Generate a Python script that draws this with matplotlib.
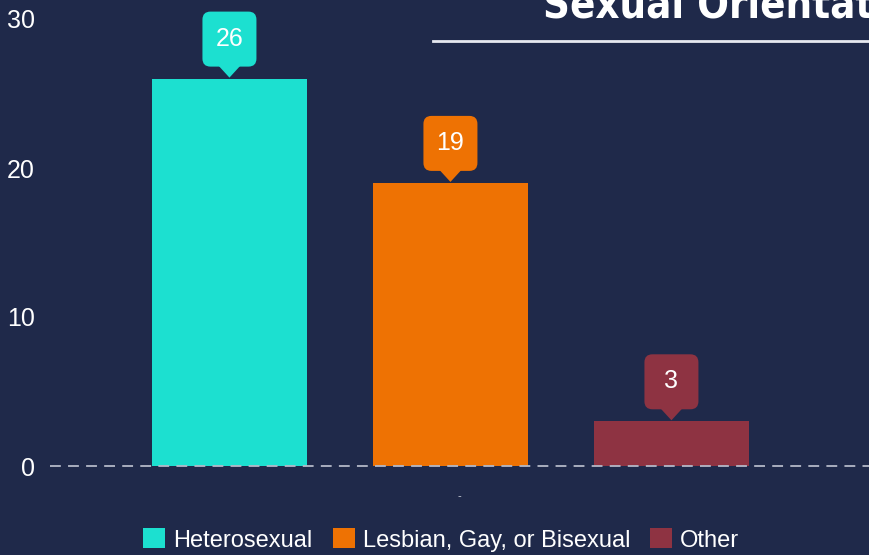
import matplotlib.pyplot as plt
import matplotlib.transforms as mtransforms
from matplotlib import font_manager
from matplotlib.patches import FancyBboxPatch, Polygon, Patch
from matplotlib.lines import Line2D

plt.rcParams["font.family"] = ["Liberation Sans", "DejaVu Sans"]

# data
categories = ["Heterosexual", "Lesbian, Gay, or Bisexual", "Other"]
counts = [26, 19, 3]
colors = ["#1ce0d0", "#ee7203", "#8e3342"]
positions = [0, 1, 2]
y_ticks = [0, 10, 20, 30]
x_tick_label = "-"
title = "Sexual Orientation"

bg = "#1f294a"

# narrow bold face for the title if one is installed (Liberation first)
narrow = [f for f in font_manager.fontManager.ttflist
          if ("Narrow" in f.name or "Condensed" in f.name
              or "condensed" in str(f.stretch))]
bold_narrow = [f for f in narrow if f.weight in ("bold", 700)]
bold_narrow.sort(key=lambda f: 0 if "Liberation" in f.name else 1)
pick = bold_narrow or narrow
if pick:
    title_prop = font_manager.FontProperties(fname=pick[0].fname, size=30)
else:
    title_prop = font_manager.FontProperties(family="DejaVu Sans", weight="bold", size=29)

fig = plt.figure(figsize=(8.69, 5.55), dpi=100, facecolor=bg)
ax = fig.add_axes([50 / 869, 89 / 555, 819 / 869, 447 / 555])
ax.set_facecolor(bg)

ax.bar(positions, counts, width=155 / 221, color=colors, zorder=2)

ax.set_xlim(-0.812, 2.894)
ax.set_ylim(0, 30)
ax.set_yticks(y_ticks)
ax.set_xticks([1.04])
ax.set_xticklabels([x_tick_label], fontsize=8, color="#d0d4de")
ax.tick_params(axis="y", length=0, pad=11, labelsize=18, labelcolor="white")
ax.tick_params(axis="x", length=0, pad=18)
for s in ax.spines.values():
    s.set_visible(False)

# dashed zero line
ax.axhline(0, color="#b4b9c8", lw=1.3, ls=(0, (6, 4)), zorder=3, clip_on=False)

# value callouts
for x, v, c in zip(positions, counts, colors):
    tr = mtransforms.Affine2D() + mtransforms.ScaledTranslation(x, v, ax.transData)
    r = 8
    box = FancyBboxPatch((-27 + r, 12 + r), 54 - 2 * r, 55 - 2 * r,
                         boxstyle=f"round,pad={r}", fc=c, ec="none",
                         transform=tr, clip_on=False, zorder=4)
    tri = Polygon([(-11, 13), (11, 13), (0, 1)], closed=True, fc=c, ec="none",
                  transform=tr, clip_on=False, zorder=4)
    ax.add_patch(box)
    ax.add_patch(tri)
    ax.text(0, 40, str(v), transform=tr, ha="center", va="center",
            fontsize=18, color="white", zorder=5)

# title, cut at the top like the original
fig.text(543 / 869, 1 - 18 / 555, title, fontproperties=title_prop,
         color="white", ha="left", va="baseline")
fig.add_artist(Line2D([433 / 869, 1], [1 - 41 / 555] * 2, color="#e6e8f0", lw=2))

handles = [Patch(fc=c, ec="none") for c in colors]
leg = fig.legend(handles, categories, loc="center", ncol=3,
                 bbox_to_anchor=(0.508, 1 - 540 / 555), frameon=False,
                 fontsize=17, labelcolor="white", handlelength=0.93,
                 handleheight=0.93, handletextpad=0.34, columnspacing=0.85)

fig.savefig("out.png", dpi=100, facecolor=bg)
